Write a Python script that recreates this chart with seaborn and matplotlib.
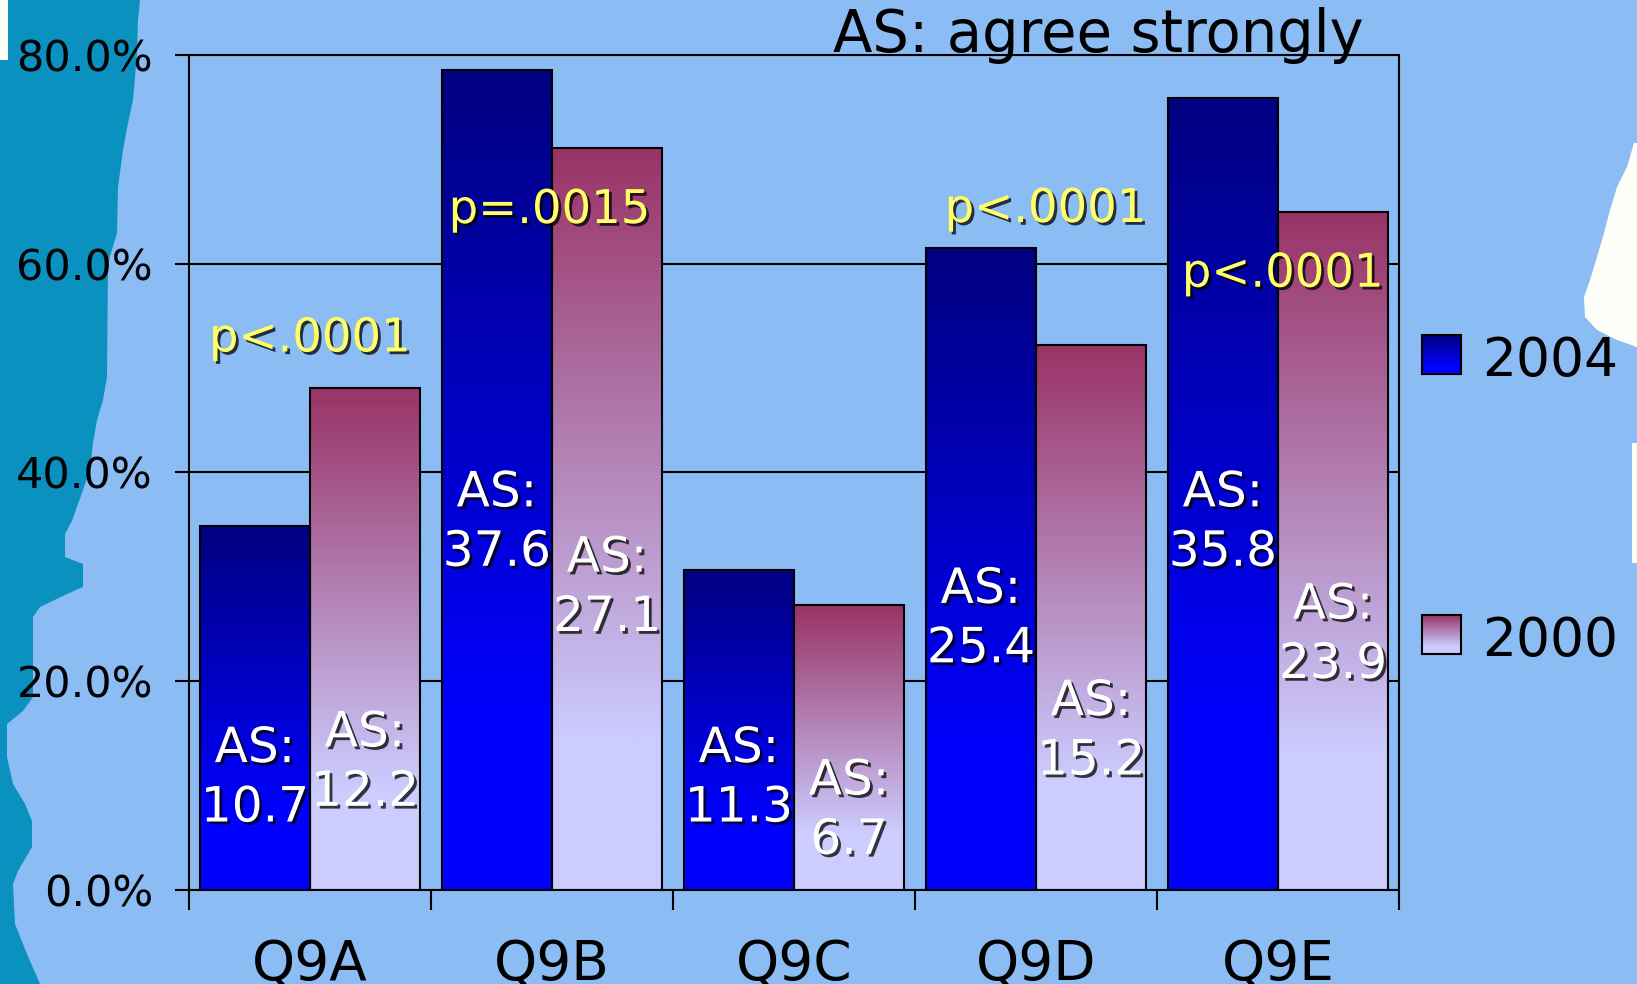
import numpy as np
import pandas as pd
import matplotlib
matplotlib.use("Agg")
import matplotlib.pyplot as plt
import matplotlib.patheffects as pe
from matplotlib.patches import Polygon
from matplotlib.colors import to_rgb
import seaborn as sns

# ---- data -------------------------------------------------------------
questions = ["Q9A", "Q9B", "Q9C", "Q9D", "Q9E"]
years = ["2004", "2000"]
pct_2004 = [34.9, 78.6, 30.7, 61.5, 75.9]
pct_2000 = [48.1, 71.1, 27.3, 52.2, 65.0]
agree_strongly_2004 = [10.7, 37.6, 11.3, 25.4, 35.8]
agree_strongly_2000 = [12.2, 27.1, 6.7, 15.2, 23.9]
p_values = ["p<.0001", "p=.0015", None, "p<.0001", "p<.0001"]
y_ticks = [0, 20, 40, 60, 80]

# ---- layout of the annotations (data coordinates) ----------------------
as_label_y_2004 = [10.75, 35.25, 10.75, 26.0, 35.25]
as_label_y_2000 = [12.25, 29.0, 7.65, 15.25, 24.5]
p_label_pos = [(0.0, 51.6), (0.99, 63.9), None, (3.04, 64.0), (4.02, 57.8)]

# ---- colours ------------------------------------------------------------
BG = "#8CBCF4"
TEAL = "#0A91BF"
grad_2004 = ("#000080", "#0000FF")   # top -> bottom
grad_2000 = ("#993366", "#CCCCFF")

W, H = 1637, 984
fig = plt.figure(figsize=(W / 100, H / 100), dpi=100, facecolor=BG)
plt.rcParams["font.family"] = ["DejaVu Sans"]


def px(x, y):
    return (x / W, 1 - y / H)


def add_shape(points, color):
    fig.patches.append(Polygon([px(*p) for p in points], closed=True,
                               transform=fig.transFigure, facecolor=color,
                               edgecolor="none", zorder=-5))


# background shapes of the slide
teal_pts = [(0, 0), (140, 0), (138, 20), (137, 53), (135, 77), (133, 100),
            (128, 123), (123, 150), (118, 187), (117, 233), (108, 263),
            (107, 377), (103, 400), (97, 420), (93, 443), (90, 470),
            (83, 490), (78, 504), (72, 521), (65, 534), (65, 557), (83, 564),
            (83, 587), (67, 594), (40, 607), (33, 617), (33, 697), (23, 711),
            (7, 724), (7, 757), (13, 784), (25, 804), (32, 821), (32, 847),
            (18, 871), (13, 884), (15, 924), (27, 954), (40, 984), (0, 984)]
add_shape(teal_pts, TEAL)
white_pts = [(1634, 143), (1627, 167), (1617, 187), (1610, 210), (1604, 233),
             (1597, 257), (1590, 280), (1584, 297), (1585, 317), (1597, 330),
             (1617, 340), (1637, 347), (1637, 143)]
add_shape(white_pts, "#FFFFFA")
add_shape([(1632, 443), (1637, 443), (1637, 563), (1632, 563)], "#FFFFFA")
add_shape([(0, 0), (8, 0), (8, 60), (0, 60)], "#FFFFFA")

# ---- main axes ----------------------------------------------------------
left, right, top, bottom = 189, 1399, 55, 890
ax = fig.add_axes([left / W, 1 - bottom / H, (right - left) / W, (bottom - top) / H])
ax.set_facecolor("none")
ax.set_zorder(2)

df = pd.DataFrame({
    "question": questions * 2,
    "year": [years[0]] * len(questions) + [years[1]] * len(questions),
    "pct": pct_2004 + pct_2000,
})
sns.barplot(data=df, x="question", y="pct", hue="year", order=questions,
            hue_order=years, palette=[grad_2004[0], grad_2000[0]],
            width=0.91, edgecolor="black", linewidth=1.5, errorbar=None,
            legend=False, ax=ax, zorder=3)


def gradient_image(top_c, bot_c, n=256, reach=0.8):
    y = np.linspace(0, 1, n)               # 0 bottom -> 1 top
    t = np.clip((1 - y) / reach, 0, 1)      # 0 at top colour, 1 at bottom colour
    a, b = np.array(to_rgb(top_c)), np.array(to_rgb(bot_c))
    img = a[None, :] * (1 - t[:, None]) + b[None, :] * t[:, None]
    return img[:, None, :]


for cont, (c_top, c_bot) in zip(ax.containers, [grad_2004, grad_2000]):
    for bar in cont:
        x0, w, h = bar.get_x(), bar.get_width(), bar.get_height()
        im = ax.imshow(gradient_image(c_top, c_bot), extent=[x0, x0 + w, 0, h],
                       origin="lower", aspect="auto", zorder=2.5,
                       interpolation="bilinear")
        im.set_clip_path(bar)
        bar.set_facecolor("none")

ax.set_xlim(-0.5, len(questions) - 0.5)
ax.set_ylim(0, 80)

# grid and frame
ax.set_axisbelow(True)
ax.yaxis.grid(True, color="black", linewidth=1.5, zorder=0)
ax.xaxis.grid(False)
for s in ax.spines.values():
    s.set_visible(True)
    s.set_color("black")
    s.set_linewidth(1.5)

ax.set_yticks(y_ticks)
ax.set_yticklabels([f"{v:.1f}%" for v in y_ticks])
ax.tick_params(axis="y", direction="out", length=10, width=1.5, pad=16,
               labelsize=31, colors="black")

ax.set_xticks(np.arange(-0.5, len(questions), 1.0))
ax.set_xticklabels([])
ax.set_xticks(np.arange(len(questions)), labels=questions, minor=True)
ax.tick_params(axis="x", which="major", direction="out", length=14.5, width=1.5)
ax.tick_params(axis="x", which="minor", length=0, pad=35, labelsize=39.5)
ax.set_xlabel("")
ax.set_ylabel("")

shadow = [pe.withSimplePatchShadow(offset=(2, -2), shadow_rgbFace="black", alpha=0.75)]

# "AS:" value labels inside the bars
for cont, vals, ys in zip(ax.containers, [agree_strongly_2004, agree_strongly_2000],
                          [as_label_y_2004, as_label_y_2000]):
    for bar, v, yy in zip(cont, vals, ys):
        xc = bar.get_x() + bar.get_width() / 2
        ax.text(xc, yy, f"AS:\n{v}", ha="center", va="center", ma="center",
                color="white", fontsize=35, linespacing=1.3, zorder=6,
                path_effects=shadow)

# significance labels
for lab, pos in zip(p_values, p_label_pos):
    if lab is None:
        continue
    ax.text(pos[0], pos[1], lab, ha="center", va="baseline", color="#FFFF66",
            fontsize=33.5, zorder=6, path_effects=shadow)

# note at the top
fig.text(1098 / W, 1 - 52 / H, "AS: agree strongly", ha="center",
         va="baseline", fontsize=41.5, color="black", zorder=5)

# legend with gradient swatches
for (c_top, c_bot), label, y_top in zip([grad_2004, grad_2000], years, [335, 615]):
    lax = fig.add_axes([1422 / W, 1 - (y_top + 39) / H, 39 / W, 39 / H])
    lax.set_zorder(2)
    lax.imshow(gradient_image(c_top, c_bot, reach=0.8), extent=[0, 1, 0, 1],
               origin="lower", aspect="auto", interpolation="bilinear")
    lax.set_xticks([])
    lax.set_yticks([])
    for s in lax.spines.values():
        s.set_color("black")
        s.set_linewidth(1.5)
    fig.text(1482 / W, 1 - (y_top + 41) / H, label, ha="left",
             va="baseline", fontsize=38.5, color="black", zorder=5)

fig.savefig("out.png", dpi=100, facecolor=BG)
